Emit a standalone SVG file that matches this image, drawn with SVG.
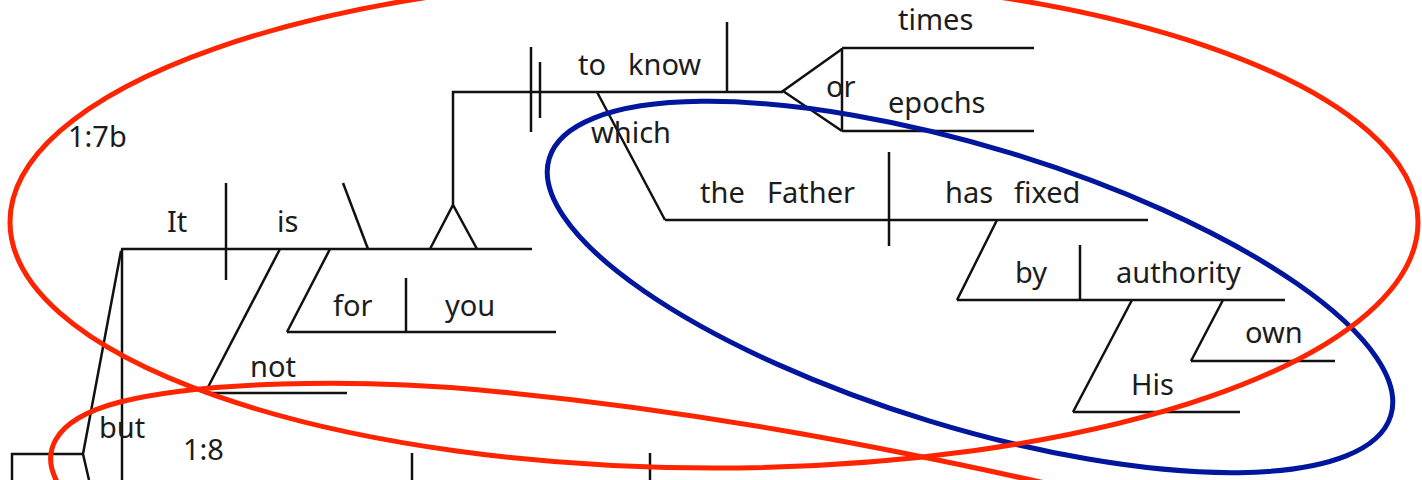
<svg xmlns="http://www.w3.org/2000/svg" width="1422" height="480" viewBox="0 0 1422 480">
<style>
.t{font-family:"Noto Sans","Open Sans","DejaVu Sans",sans-serif;font-size:29px;fill:#1c1c1c}
.c line,.c polyline{stroke:#111;stroke-width:2.5;fill:none;stroke-linecap:butt}
.red{fill:none;stroke:#ff2400;stroke-width:5}
.blue{fill:none;stroke:#00169c;stroke-width:5}
</style>
<rect width="1422" height="480" fill="#fff"/>
<g id="connectors" class="c">
<line x1="121" y1="249" x2="532" y2="249"/>
<line x1="226" y1="183" x2="226" y2="280"/>
<line x1="343" y1="183" x2="368" y2="249"/>
<polyline points="430,249 453,205 477,249"/>
<line x1="453" y1="205" x2="453" y2="91"/>
<line x1="452" y1="92" x2="783" y2="92"/>
<line x1="531" y1="47" x2="531" y2="132"/>
<line x1="540" y1="62" x2="540" y2="118"/>
<line x1="727" y1="22" x2="727" y2="92"/>
<polyline points="842,49 783,91 842,131"/>
<line x1="842" y1="48" x2="842" y2="131"/>
<line x1="842" y1="48" x2="1034" y2="48"/>
<line x1="842" y1="131" x2="1034" y2="131"/>
<line x1="597" y1="92" x2="665" y2="220"/>
<line x1="665" y1="220" x2="1148" y2="220"/>
<line x1="889" y1="152" x2="889" y2="246"/>
<line x1="997" y1="220" x2="957" y2="300"/>
<line x1="957" y1="300" x2="1285" y2="300"/>
<line x1="1080" y1="245" x2="1080" y2="300"/>
<line x1="1132" y1="300" x2="1073" y2="412"/>
<line x1="1073" y1="412" x2="1240" y2="412"/>
<line x1="1223" y1="300" x2="1191" y2="361"/>
<line x1="1191" y1="361" x2="1335" y2="361"/>
<line x1="330" y1="249" x2="287" y2="332"/>
<line x1="287" y1="332" x2="556" y2="332"/>
<line x1="406" y1="278" x2="406" y2="332"/>
<line x1="280" y1="249" x2="205" y2="393"/>
<line x1="205" y1="393" x2="347" y2="393"/>
<line x1="122" y1="249" x2="122" y2="480"/>
<polyline points="121,251 83,454 89,480"/>
<polyline points="83,454 12,454 12,480"/>
<line x1="412" y1="453" x2="412" y2="480"/>
<line x1="650" y1="453" x2="650" y2="480"/>
</g>
<g id="ref-17b"><text class="t" x="68" y="147">1:7b</text></g>
<g id="ref-18"><text class="t" x="183" y="460">1:8</text></g>
<g id="w-it"><text class="t" x="167" y="232">It</text></g>
<g id="w-is"><text class="t" x="277" y="232">is</text></g>
<g id="w-for"><text class="t" x="333" y="316">for</text></g>
<g id="w-you"><text class="t" x="445" y="316">you</text></g>
<g id="w-not"><text class="t" x="250" y="377">not</text></g>
<g id="w-but"><text class="t" x="99" y="438">but</text></g>
<g id="w-toknow"><text class="t" y="75"><tspan x="578">to</tspan><tspan x="628">know</tspan></text></g>
<g id="w-or"><text class="t" x="826" y="97">or</text></g>
<g id="w-times"><text class="t" x="898" y="30">times</text></g>
<g id="w-epochs"><text class="t" x="888" y="113">epochs</text></g>
<g id="w-which"><text class="t" x="591" y="143">which</text></g>
<g id="w-thefather"><text class="t" y="203"><tspan x="700">the</tspan><tspan x="767">Father</tspan></text></g>
<g id="w-hasfixed"><text class="t" y="203"><tspan x="945">has</tspan><tspan x="1014">fixed</tspan></text></g>
<g id="w-by"><text class="t" x="1015" y="283">by</text></g>
<g id="w-authority"><text class="t" x="1116" y="283">authority</text></g>
<g id="w-own"><text class="t" x="1245" y="343">own</text></g>
<g id="w-his"><text class="t" x="1131" y="395">His</text></g>
<g id="highlights">
<ellipse class="blue" cx="970" cy="287" rx="440" ry="140" transform="rotate(17 970 287)"/>
<ellipse class="red" cx="714" cy="222" rx="704" ry="246"/>
<path class="red" d="M62,490 C38,455 50,420 120,402 C200,382 350,378 480,390 C700,410 900,450 1085,492"/>
</g>
</svg>
